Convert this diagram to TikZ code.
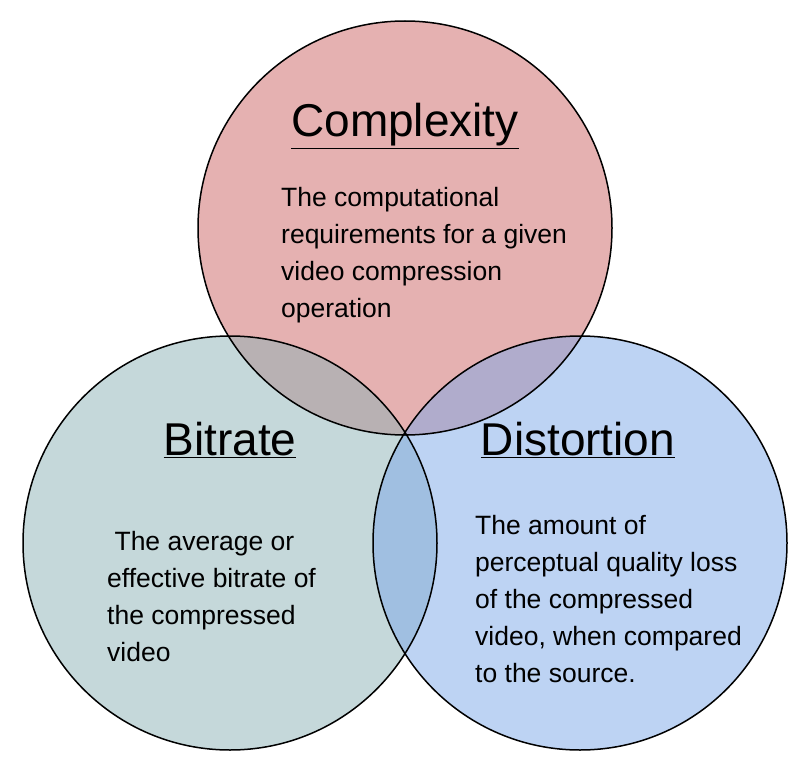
\documentclass[tikz,border=0pt]{standalone}
\usepackage{fontspec}
\setmainfont{Liberation Sans}
\begin{document}
\begin{tikzpicture}[x=1pt,y=-1pt,
  circ/.style={fill opacity=0.5},
  ttl/.style={font=\fontsize{46}{50}\selectfont},
  body/.style={anchor=north west,align=left,font=\fontsize{26.5}{37}\selectfont,inner sep=0pt}]
\useasboundingbox (0,0) rectangle (800,762);
\fill[white] (0,0) rectangle (800,762);
\path[circ,fill={rgb,255:red,205;green,100;blue,100}] (405,228) circle (207);
\path[circ,fill={rgb,255:red,140;green,178;blue,182}] (230,543) circle (207);
\path[circ,fill={rgb,255:red,125;green,168;blue,232}] (580,543) circle (207);
\draw[line width=1.5pt] (405,228) circle (207) (230,543) circle (207) (580,543) circle (207);
\node[ttl] (tc) at (405,126) {\underline{Complexity}};
\node[ttl] (tb) at (230,440) {\underline{Bitrate}};
\node[ttl] (td) at (578,440) {\underline{Distortion}};
\node[body] (bc) at (281,187) {The computational\\requirements for a given\\video compression\\operation};
\node[body] (bb) at (107,531) {\ The average or\\effective bitrate of\\the compressed\\video};
\node[body] (bd) at (475,515) {The amount of\\perceptual quality loss\\of the compressed\\video, when compared\\to the source.};
\end{tikzpicture}
\end{document}
